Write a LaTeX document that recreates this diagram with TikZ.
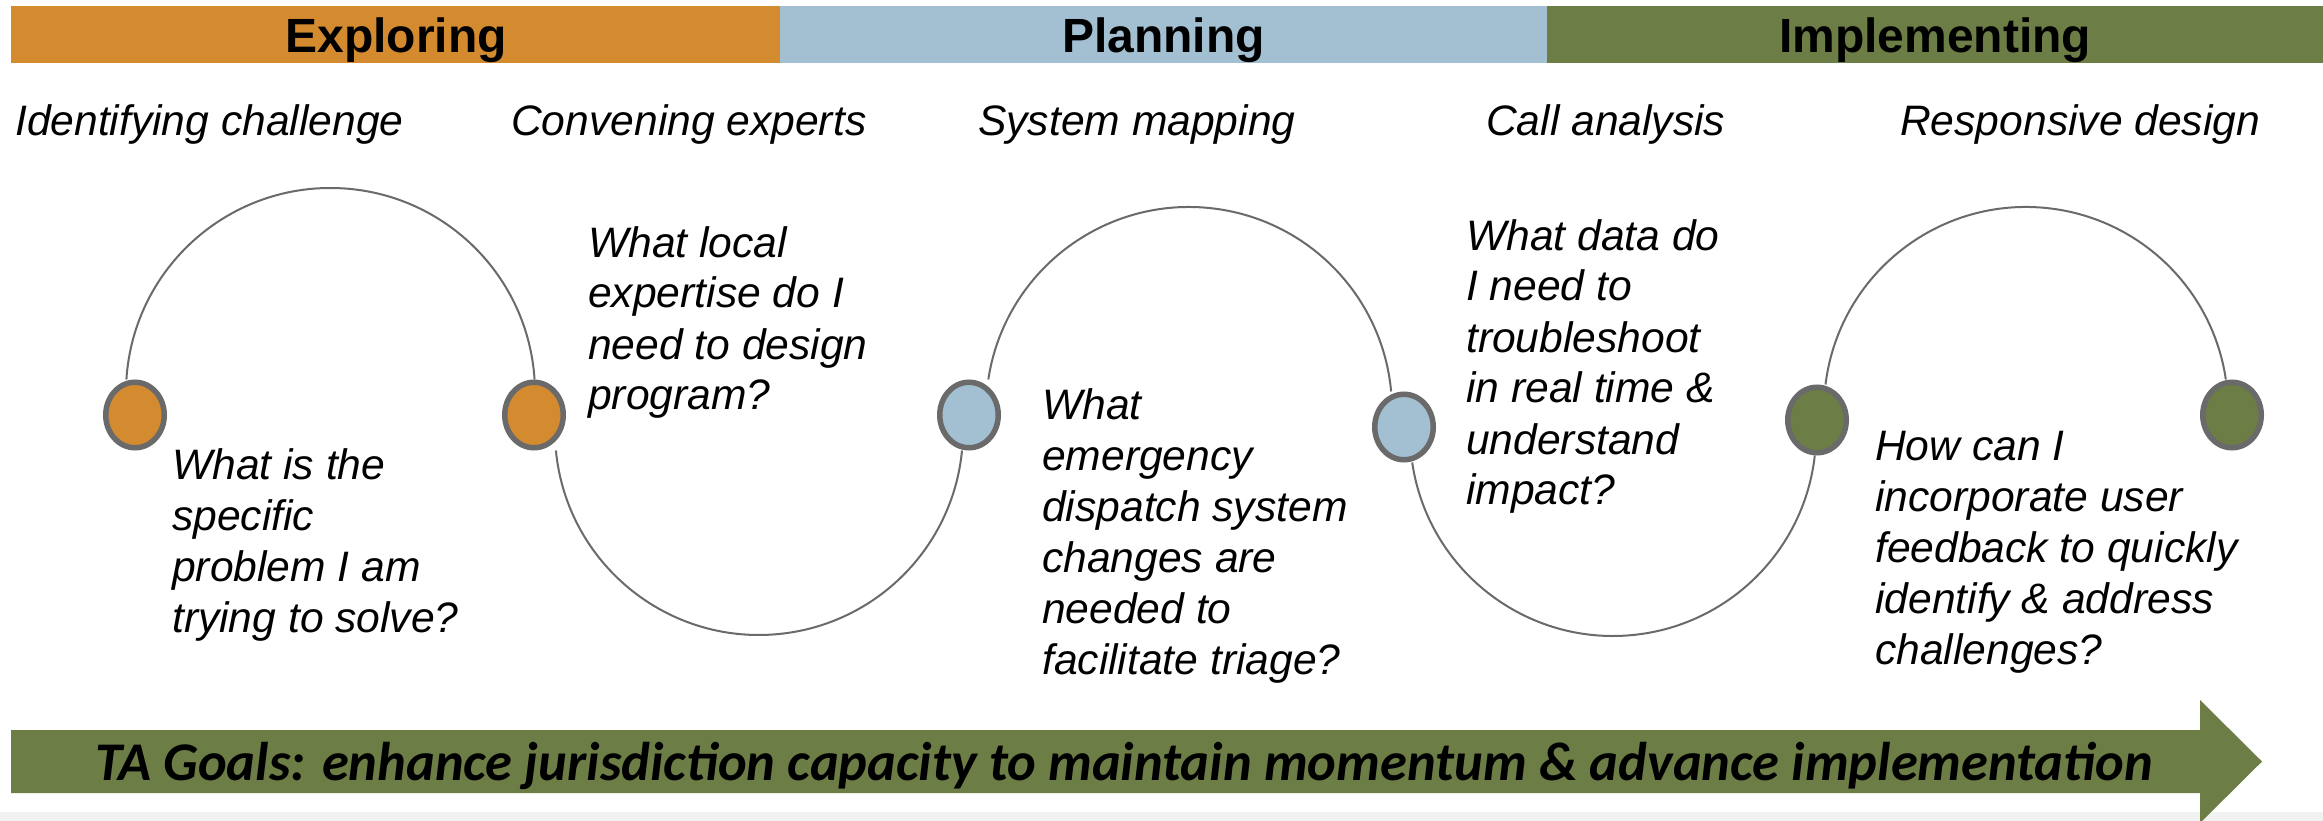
\documentclass[tikz,border=0pt]{standalone}
\usepackage{fontspec}
\setmainfont{Liberation Sans}
\newfontfamily\calfont{Carlito}
\usetikzlibrary{shapes.geometric,backgrounds}
\definecolor{expl}{HTML}{D48A2F}
\definecolor{plan}{HTML}{A2C0D2}
\definecolor{impl}{HTML}{6D7D46}
\definecolor{ringgray}{HTML}{6A6A6A}
\definecolor{stripgray}{HTML}{F2F2F2}
\begin{document}
\begin{tikzpicture}[x=1pt,y=1pt,
  title/.style={anchor=base, inner sep=0, font=\bfseries\fontsize{48}{56}\selectfont},
  phase/.style={anchor=base west, inner sep=0, font=\itshape\fontsize{42.6}{51}\selectfont},
  question/.style={anchor=base west, inner sep=0, font=\itshape\fontsize{42.6}{51}\selectfont},
  dot/.style={ellipse, draw=ringgray, line width=5.5pt, minimum width=58.5pt, minimum height=65.5pt, inner sep=0pt},
  ring/.style={draw=ringgray, line width=2pt},
  goal/.style={anchor=base, inner sep=0, font=\calfont\bfseries\itshape\fontsize{54.5}{60}\selectfont}]
\useasboundingbox (0,0) rectangle (2323,-821);
% bottom strip
\fill[stripgray] (0,-812) rectangle (2323,-821);
% phase bands
\fill[expl] (11,-6) rectangle (780,-63);
\fill[plan] (780,-6) rectangle (1547,-63);
\fill[impl] (1547,-6) rectangle (2323,-63);
\node[title] (t1) at (396,-53) {Exploring};
\node[title] (t2) at (1163.5,-53) {Planning};
\node[title] (t3) at (1935,-53) {Implementing};
% phase labels
\node[phase] (p1) at (15,-136) {Identifying challenge};
\node[phase] (p2) at (511,-136) {Convening experts};
\node[phase] (p3) at (978,-136) {System mapping};
\node[phase] (p4) at (1486,-136) {Call analysis};
\node[phase] (p5) at (1900,-136) {Responsive design};
% milestone dots
\node[dot, fill=expl] (n1) at (135,-415) {};
\node[dot, fill=expl] (n2) at (534,-415) {};
\node[dot, fill=plan] (n3) at (969,-415) {};
\node[dot, fill=plan] (n4) at (1404,-427) {};
\node[dot, fill=impl] (n5) at (1817,-420) {};
\node[dot, fill=impl] (n6) at (2232,-415) {};
% connecting arcs
\begin{pgfonlayer}{background}
\fill[white] (0,0) rectangle (2323,-812);
\draw[ring] ([xshift=-8.6pt]n1.north) arc[start angle=176.36, end angle=3.64, radius=204.5];
\draw[ring] ([xshift=21.9pt]n2.south) arc[start angle=185.49, end angle=354.51, radius=204];
\draw[ring] ([xshift=19.3pt]n3.north) arc[start angle=171.36, end angle=5.23, radius=203];
\draw[ring] ([xshift=8.2pt]n4.south) arc[start angle=188.36, end angle=353.64, radius=203];
\draw[ring] ([xshift=8.5pt]n5.north) arc[start angle=173.04, end angle=8.4, radius=202];
\end{pgfonlayer}
% questions
\node[question] (q1) at (172,-479) {\begin{tabular}[t]{@{}l@{}}What is the\\specific\\problem I am\\trying to solve?\end{tabular}};
\node[question] (q2) at (588,-257) {\begin{tabular}[t]{@{}l@{}}What local\\expertise do I\\need to design\\program?\end{tabular}};
\node[question] (q3) at (1042,-419) {\begin{tabular}[t]{@{}l@{}}What\\emergency\\dispatch system\\changes are\\needed to\\facilitate triage?\end{tabular}};
\node[question] (q4) at (1466,-250) {\begin{tabular}[t]{@{}l@{}}What data do\\I need to\\troubleshoot\\in real time \&\\understand\\impact?\end{tabular}};
\node[question] (q5) at (1875,-460) {\begin{tabular}[t]{@{}l@{}}How can I\\incorporate user\\feedback to quickly\\identify \& address\\challenges?\end{tabular}};
% goal arrow
\fill[impl] (11,-730) -- (2200,-730) -- (2200,-700) -- (2262,-761.5) -- (2200,-823) -- (2200,-793) -- (11,-793) -- cycle;
\node[goal] (g) at (1124,-780) {TA Goals: enhance jurisdiction capacity to maintain momentum \& advance implementation};
\end{tikzpicture}
\end{document}
